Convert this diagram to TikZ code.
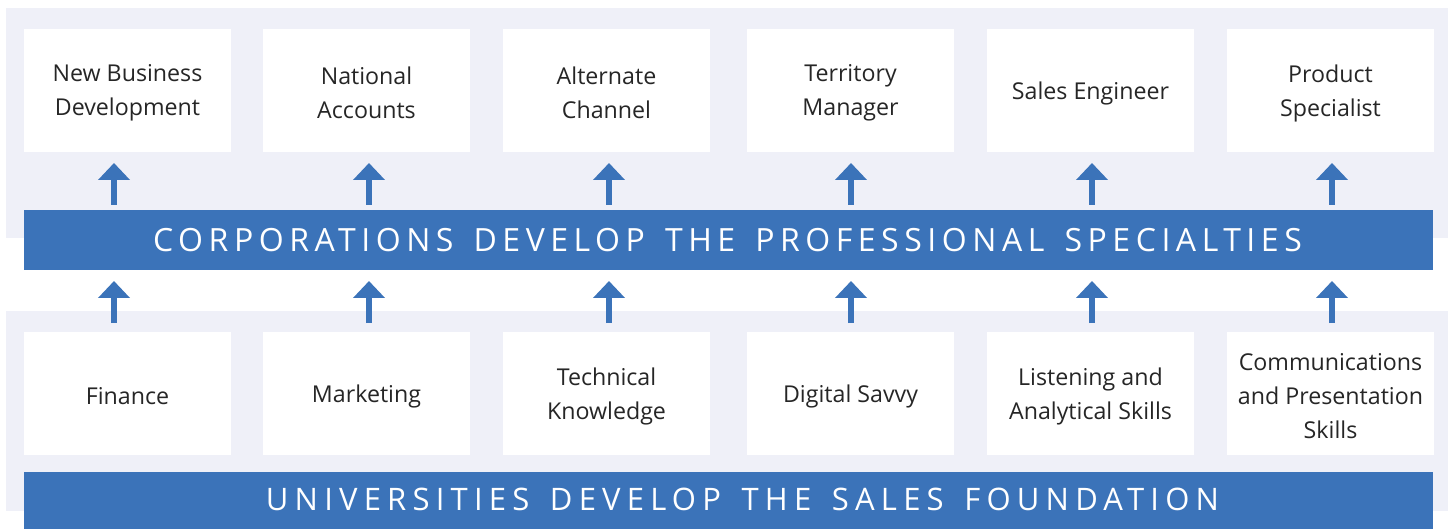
\documentclass[tikz,border=0pt]{standalone}
\usepackage{fontspec}
\setmainfont{Open Sans}
\newfontfamily\bandA[LetterSpace=17.3,WordSpace=1.45]{Open Sans}
\newfontfamily\bandB[LetterSpace=20,WordSpace=1.45]{Open Sans}
\usetikzlibrary{arrows.meta}
\definecolor{bandblue}{RGB}{59,115,185}
\definecolor{panelbg}{RGB}{239,240,248}
\definecolor{txt}{RGB}{38,38,38}
\begin{document}
\begin{tikzpicture}[x=1pt,y=-1pt,
  box/.style={fill=white, minimum width=207pt, minimum height=123pt, inner sep=0pt,
    align=center, text=txt, font=\fontsize{23.2}{34}\selectfont},
  lbl/.style={align=center, text=txt, inner sep=0pt, font=\fontsize{23.2}{34}\selectfont, yshift=-2.5pt},
  band/.style={fill=bandblue, inner sep=0pt, minimum width=1409pt},
  bandtext/.style={text=white, inner sep=0pt},
  arr/.style={draw=bandblue, line width=6pt, -{Triangle[width=31pt,length=17pt]}}]
\useasboundingbox (0,0) rectangle (1448,529);
\fill[panelbg] (6,8) rectangle (1448,238);
\fill[panelbg] (6,311) rectangle (1448,511);

\node[box] (t1) at (127.5,90.5) {};
\node[box] (t2) at (366.5,90.5) {};
\node[box] (t3) at (606.5,90.5) {};
\node[box] (t4) at (850.5,90.5) {};
\node[box] (t5) at (1090.5,90.5) {};
\node[box] (t6) at (1330.5,90.5) {};
\node[lbl] at (t1) {New Business\\Development};
\node[lbl] at (t2) {National\\Accounts};
\node[lbl] at (t3) {Alternate\\Channel};
\node[lbl] at (t4) {Territory\\Manager};
\node[lbl] at (t5) {Sales Engineer};
\node[lbl] at (t6) {Product\\Specialist};

\node[box] (b1) at (127.5,393.5) {};
\node[box] (b2) at (366.5,393.5) {};
\node[box] (b3) at (606.5,393.5) {};
\node[box] (b4) at (850.5,393.5) {};
\node[box] (b5) at (1090.5,393.5) {};
\node[box] (b6) at (1330.5,393.5) {};
\node[lbl] at (b1) {Finance};
\node[lbl] at (b2) {Marketing};
\node[lbl] at (b3) {Technical\\Knowledge};
\node[lbl] at (b4) {Digital Savvy};
\node[lbl] at (b5) {Listening and\\Analytical Skills};
\node[lbl] at (b6) {Communications\\and Presentation\\Skills};

\node[band, minimum height=60pt] (corp) at (728.5,240) {};
\node[bandtext, font=\bandA\fontsize{32}{32}\selectfont] (corptext) at (727.5,240) {CORPORATIONS DEVELOP THE PROFESSIONAL SPECIALTIES};
\node[band, minimum height=57pt] (univ) at (728.5,500.5) {};
\node[bandtext, font=\bandB\fontsize{31}{31}\selectfont] (univtext) at (742.5,499) {UNIVERSITIES DEVELOP THE SALES FOUNDATION};

\foreach \x [count=\i] in {114,369,609,851,1092,1332} {
  \coordinate (us\i) at (\x,205);
  \coordinate (ut\i) at (\x,163);
  \coordinate (ls\i) at (\x,323);
  \coordinate (lt\i) at (\x,281);
  \draw[arr] (us\i) -- (ut\i);
  \draw[arr] (ls\i) -- (lt\i);
}
\end{tikzpicture}
\end{document}
